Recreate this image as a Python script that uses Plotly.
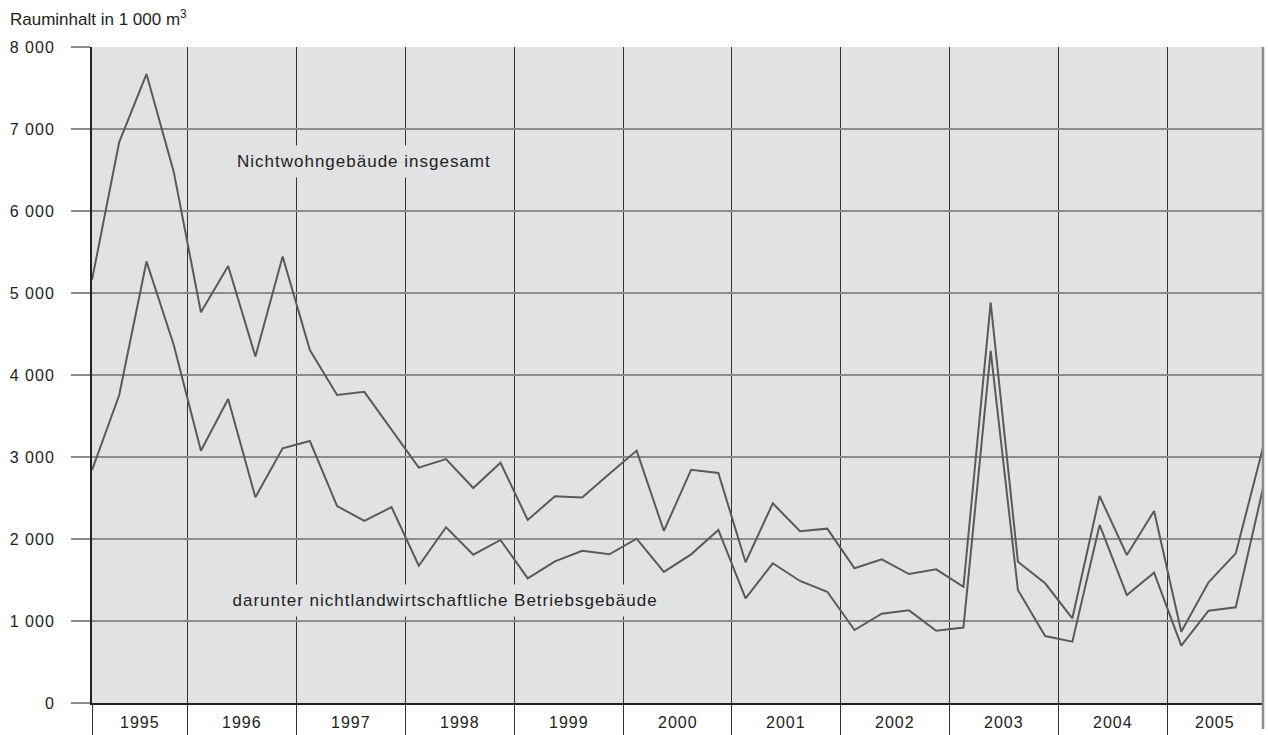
import plotly.graph_objects as go

# Quarterly data 1995 Q1 – 2005 Q4 (Rauminhalt in 1 000 m³)
years = list(range(1995, 2006))
quarters = [1, 2, 3, 4]

insgesamt = [
    5160, 6840, 7670, 6480,   # 1995
    4765, 5330, 4225, 5445,   # 1996
    4305, 3756, 3795, 3330,   # 1997
    2870, 2975, 2622, 2930,   # 1998
    2232, 2522, 2505, 2795,   # 1999
    3078, 2098, 2845, 2805,   # 2000
    1716, 2435, 2094, 2126,   # 2001
    1643, 1752, 1573, 1630,   # 2002
    1416, 4882, 1723, 1460,   # 2003
    1033, 2524, 1805, 2341,   # 2004
    870, 1472, 1825, 3115,    # 2005
]

betriebsgebaeude = [
    2840, 3756, 5385, 4370,   # 1995
    3077, 3707, 2508, 3106,   # 1996
    3195, 2402, 2220, 2388,   # 1997
    1674, 2143, 1809, 1988,   # 1998
    1520, 1728, 1857, 1813,   # 1999
    2004, 1598, 1813, 2110,   # 2000
    1277, 1704, 1488, 1357,   # 2001
    890, 1089, 1130, 882,     # 2002
    920, 4293, 1378, 817,     # 2003
    748, 2171, 1317, 1589,    # 2004
    699, 1126, 1167, 2618,    # 2005
]

label_insgesamt = "Nichtwohngebäude insgesamt"
label_betrieb = "darunter nichtlandwirtschaftliche Betriebsgebäude"
y_title = "Rauminhalt in 1 000 m<sup>3</sup>"
y_ticks = [0, 1000, 2000, 3000, 4000, 5000, 6000, 7000, 8000]
y_ticktext = ["0", "1 000", "2 000", "3 000", "4 000", "5 000", "6 000", "7 000", "8 000"]

# x position: centre of each quarter
x = [y + (q - 0.5) / 4 for y in years for q in quarters]
x_min, x_max = x[0], x[-1]

FONT = "Liberation Sans, Arial, sans-serif"
BG = "#e1e2e4"
LINE = "#5a5a5a"
TXT = "#222222"

fig = go.Figure()
fig.add_trace(go.Scatter(x=x, y=insgesamt, mode="lines",
                         line=dict(color=LINE, width=2), name=label_insgesamt,
                         showlegend=False, hoverinfo="skip"))
fig.add_trace(go.Scatter(x=x, y=betriebsgebaeude, mode="lines",
                         line=dict(color=LINE, width=2), name=label_betrieb,
                         showlegend=False, hoverinfo="skip"))

boundaries = [x_min] + years[1:]

fig.update_xaxes(
    range=[x_min, x_max],
    tickvals=boundaries, showticklabels=False,
    ticks="outside", ticklen=32, tickcolor="#333333", tickwidth=1,
    showgrid=True, gridcolor="#333333", gridwidth=1,
    showline=True, linecolor="#222222", linewidth=1.5,
    zeroline=False, fixedrange=True, automargin=False,
)
fig.update_yaxes(
    range=[0, 8000],
    tickvals=y_ticks, ticktext=y_ticktext,
    ticks="outside", ticklen=19, tickcolor="#8c8c8c", tickwidth=1.5,
    ticklabelstandoff=13,
    showgrid=True, gridcolor="#8c8c8c", gridwidth=1.5,
    showline=True, linecolor="#222222", linewidth=2,
    zeroline=False, fixedrange=True, automargin=False,
    tickfont=dict(family=FONT, size=16, color=TXT),
)

annotations = []
# year labels centred in the visible part of each year
for yr in years:
    lo = max(yr, x_min)
    hi = min(yr + 1, x_max)
    annotations.append(dict(x=(lo + hi) / 2, y=-19 / 656, xref="x", yref="paper",
                            text=str(yr), showarrow=False, xanchor="center", yanchor="middle",
                            font=dict(family=FONT, size=16, color=TXT)))
annotations.append(dict(x=-84 / 1171, y=1 + 29 / 656, xref="paper", yref="paper",
                        text=y_title, showarrow=False, xanchor="left", yanchor="middle",
                        font=dict(family=FONT, size=17, color=TXT)))
annotations.append(dict(x=1997.62, y=6600, xref="x", yref="y", text=label_insgesamt,
                        showarrow=False, xanchor="center", yanchor="middle",
                        bgcolor=BG, borderpad=6,
                        font=dict(family=FONT, size=17, color=TXT)))
annotations.append(dict(x=1998.37, y=1256, xref="x", yref="y", text=label_betrieb,
                        showarrow=False, xanchor="center", yanchor="middle",
                        bgcolor=BG, borderpad=6,
                        font=dict(family=FONT, size=17, color=TXT)))

fig.add_shape(type="line", xref="paper", yref="paper", x0=1, x1=1, y0=-26 / 656, y1=1,
              line=dict(color="#8c8c8c", width=2.5))

fig.update_layout(
    width=1268, height=735,
    margin=dict(l=92, r=5, t=47, b=32, autoexpand=False),
    paper_bgcolor="white", plot_bgcolor=BG,
    annotations=annotations,
    font=dict(family=FONT),
    showlegend=False,
)

post = """
document.documentElement.style.margin = '0';
document.documentElement.style.overflow = 'hidden';
document.body.style.margin = '0';
document.body.style.overflow = 'hidden';
var gd = document.getElementById('{plot_id}');
gd.style.position = 'fixed';
gd.style.left = '0px';
gd.style.top = '0px';
gd.querySelectorAll('.ytick text, .annotation-text').forEach(function (t) {
  t.style.letterSpacing = '1px';
});
gd.querySelectorAll('.annotation').forEach(function (a) {
  if (a.getAttribute('data-index') === '11') {
    a.querySelectorAll('text').forEach(function (t) { t.style.letterSpacing = '0px'; });
  }
});
"""

fig.write_html("out.html", config={"displayModeBar": False}, post_script=post)
